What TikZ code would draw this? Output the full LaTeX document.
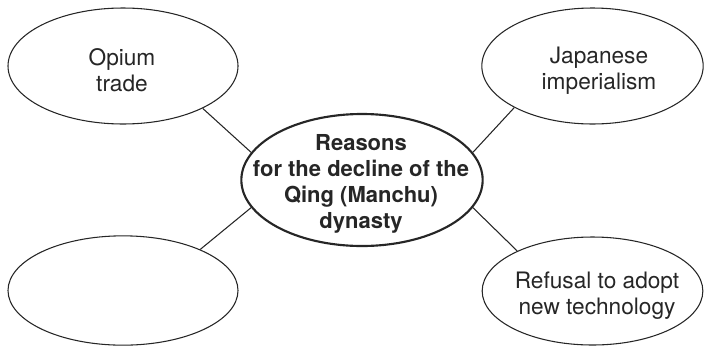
\documentclass[tikz,border=0pt]{standalone}
\usepackage{fontspec}
\setmainfont{TeX Gyre Heros}
\usepackage{tikz}
\usetikzlibrary{shapes.geometric}

\tikzset{
  bubble/.style={draw, ellipse, inner sep=0pt, line width=0.8pt, color=black!85},
  hub/.style={bubble, line width=1.6pt},
  bubbletext/.style={align=center, inner sep=0.75pt, font=\fontsize{17}{19.5}\selectfont, text=black!85},
  hubtext/.style={bubbletext, font=\fontsize{16.5}{19.5}\selectfont\bfseries},
  spoke/.style={line width=0.8pt, color=black!85}
}

\begin{document}
\begin{tikzpicture}[x=0.75pt,y=0.75pt,yscale=-1,xscale=1]
\useasboundingbox (0,0) rectangle (705,347);

%Ellipses
\node [hub, minimum width=181pt, minimum height=99pt] (hub) at (362,180) {};
\node [bubble, minimum width=172.5pt, minimum height=87pt] (opium) at (123,66) {};
\node [bubble, minimum width=166pt, minimum height=87pt] (japan) at (592.5,66) {};
\node [bubble, minimum width=172.5pt, minimum height=82pt] (blank) at (123,290.5) {};
\node [bubble, minimum width=165.5pt, minimum height=81pt] (refusal) at (592.5,291) {};

% Text Nodes
\node [hubtext] (hubtxt) at (361,184) {Reasons\\for the decline of the\\Qing (Manchu)\\dynasty};
\node [bubbletext] (opiumtxt) at (122,70) {Opium\\trade};
\node [bubbletext] (japantxt) at (599,71) {Japanese\\imperialism};
\node [bubbletext] (refusaltxt) at (597,296) {Refusal to adopt\\new technology};

%Connectors
\draw [spoke] (opium.-28) -- (hub.166);
\draw [spoke] (japan.208) -- (hub.14);
\draw [spoke] (blank.28) -- (hub.194);
\draw [spoke] (refusal.152) -- (hub.-14);

\end{tikzpicture}
\end{document}
